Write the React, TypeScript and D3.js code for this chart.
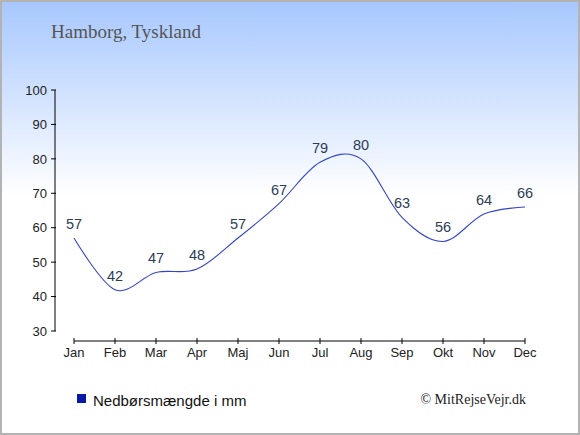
import React from "react";
import * as d3 from "d3";

const months = ["Jan", "Feb", "Mar", "Apr", "Maj", "Jun", "Jul", "Aug", "Sep", "Okt", "Nov", "Dec"];
const rainfall = [57, 42, 47, 48, 57, 67, 79, 80, 63, 56, 64, 66];
const yTicks = [30, 40, 50, 60, 70, 80, 90, 100];
const title = "Hamborg, Tyskland";
const legendLabel = "Nedbørsmængde i mm";
const credit = "© MitRejseVejr.dk";

const W = 580;
const H = 435;

export default function App() {
  const x = d3.scalePoint<string>().domain(months).range([74, 525]);
  const y = d3.scaleLinear().domain([30, 100]).range([331, 90]);
  const line = d3
    .line<number>()
    .x((_, i) => x(months[i]) as number)
    .y((d) => y(d))
    .curve(d3.curveCardinal.tension(0));
  const path = line(rainfall) || "";
  const sans = "'Liberation Sans', Arial, sans-serif";
  const serif = "'Liberation Serif', 'Times New Roman', serif";

  return (
    <svg
      width={W}
      height={H}
      style={{ position: "absolute", left: 0, top: 0, display: "block" }}
    >
      <defs>
        <linearGradient id="bg" x1="0" y1="0" x2="0" y2="1">
          <stop offset="0%" stopColor="#a6c7fe" />
          <stop offset="45%" stopColor="#ffffff" />
          <stop offset="100%" stopColor="#ffffff" />
        </linearGradient>
      </defs>
      <rect x={0} y={0} width={W} height={H} fill="url(#bg)" />
      <rect x={1} y={1} width={W - 2} height={H - 2} fill="none" stroke="#b3b3b3" strokeWidth={2} />

      <text x={51} y={38} fontFamily={serif} fontSize={19} fill="#555555">
        {title}
      </text>

      {/* Y axis */}
      <line x1={55} x2={55} y1={y(100)} y2={y(30)} stroke="#000" strokeWidth={1} />
      {yTicks.map((t) => (
        <g key={t}>
          <line x1={51} x2={56} y1={y(t)} y2={y(t)} stroke="#000" strokeWidth={1} />
          <text
            x={47}
            y={y(t)}
            dy="0.36em"
            textAnchor="end"
            fontFamily={sans}
            fontSize={13}
            fill="#222"
          >
            {t}
          </text>
        </g>
      ))}

      {/* X axis */}
      <line x1={x(months[0])} x2={x(months[months.length - 1])} y1={341} y2={341} stroke="#000" strokeWidth={1} />
      {months.map((m) => (
        <g key={m}>
          <line x1={x(m)} x2={x(m)} y1={338} y2={344} stroke="#000" strokeWidth={1} />
          <text
            x={x(m)}
            y={357}
            textAnchor="middle"
            fontFamily={sans}
            fontSize={13}
            fill="#222"
          >
            {m}
          </text>
        </g>
      ))}

      {/* Line */}
      <path d={path} fill="none" stroke="#3344cc" strokeWidth={1.1} />

      {/* Value labels */}
      {rainfall.map((v, i) => (
        <text
          key={i}
          x={x(months[i])}
          y={y(v) - 9}
          textAnchor="middle"
          fontFamily={sans}
          fontSize={14.5}
          fill="#2c3c58"
        >
          {v}
        </text>
      ))}

      {/* Legend */}
      <rect x={77} y={394} width={9} height={9} fill="#0a18a8" />
      <text x={93} y={406} fontFamily={sans} fontSize={15} fill="#111">
        {legendLabel}
      </text>
      <text x={526} y={404} textAnchor="end" fontFamily={serif} fontSize={14} fill="#222">
        {credit}
      </text>
    </svg>
  );
}
